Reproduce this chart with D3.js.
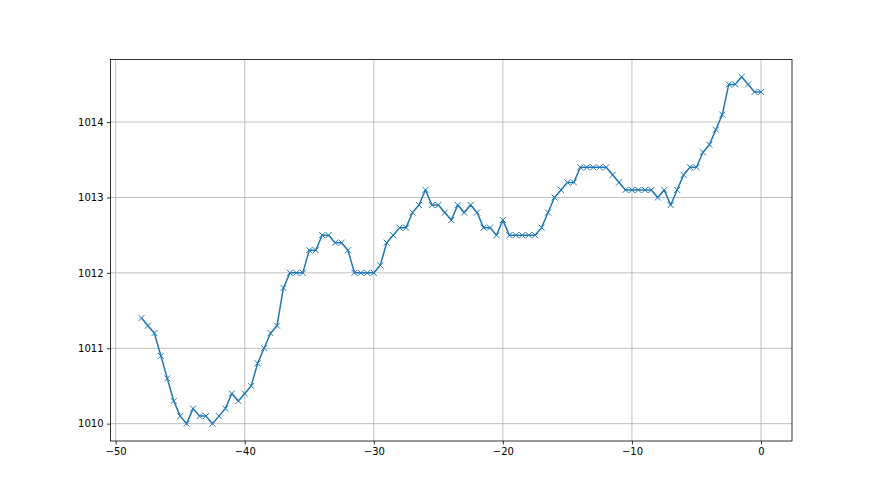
<!DOCTYPE html>
<html>
<head>
<meta charset="utf-8">
<script src="https://cdn.jsdelivr.net/npm/d3@7"></script>
<style>
  body { margin: 0; background: #fff; }
  .tick text { font-family: "DejaVu Sans", sans-serif; font-size: 10px; fill: #000; }
</style>
</head>
<body>
<div class="chart"></div>
<script>
// x positions: every half step from -48 to 0
const xValues = [
  -48, -47.5, -47, -46.5, -46, -45.5, -45, -44.5, -44, -43.5,
  -43, -42.5, -42, -41.5, -41, -40.5, -40, -39.5, -39, -38.5,
  -38, -37.5, -37, -36.5, -36, -35.5, -35, -34.5, -34, -33.5,
  -33, -32.5, -32, -31.5, -31, -30.5, -30, -29.5, -29, -28.5,
  -28, -27.5, -27, -26.5, -26, -25.5, -25, -24.5, -24, -23.5,
  -23, -22.5, -22, -21.5, -21, -20.5, -20, -19.5, -19, -18.5,
  -18, -17.5, -17, -16.5, -16, -15.5, -15, -14.5, -14, -13.5,
  -13, -12.5, -12, -11.5, -11, -10.5, -10, -9.5, -9, -8.5,
  -8, -7.5, -7, -6.5, -6, -5.5, -5, -4.5, -4, -3.5,
  -3, -2.5, -2, -1.5, -1, -0.5, 0
]
const pressure = [
  1011.4, 1011.3, 1011.2, 1010.9, 1010.6, 1010.3, 1010.1, 1010.0, 1010.2, 1010.1,
  1010.1, 1010.0, 1010.1, 1010.2, 1010.4, 1010.3, 1010.4, 1010.5, 1010.8, 1011.0,
  1011.2, 1011.3, 1011.8, 1012.0, 1012.0, 1012.0, 1012.3, 1012.3, 1012.5, 1012.5,
  1012.4, 1012.4, 1012.3, 1012.0, 1012.0, 1012.0, 1012.0, 1012.1, 1012.4, 1012.5,
  1012.6, 1012.6, 1012.8, 1012.9, 1013.1, 1012.9, 1012.9, 1012.8, 1012.7, 1012.9,
  1012.8, 1012.9, 1012.8, 1012.6, 1012.6, 1012.5, 1012.7, 1012.5, 1012.5, 1012.5,
  1012.5, 1012.5, 1012.6, 1012.8, 1013.0, 1013.1, 1013.2, 1013.2, 1013.4, 1013.4,
  1013.4, 1013.4, 1013.4, 1013.3, 1013.2, 1013.1, 1013.1, 1013.1, 1013.1, 1013.1,
  1013.0, 1013.1, 1012.9, 1013.1, 1013.3, 1013.4, 1013.4, 1013.6, 1013.7, 1013.9,
  1014.1, 1014.5, 1014.5, 1014.6, 1014.5, 1014.4, 1014.4
]
const xTicks = [-50, -40, -30, -20, -10, 0]
const yTicks = [1010, 1011, 1012, 1013, 1014]

const data = xValues.map(function(x, i){ return {x: x, y: pressure[i]} })

const margin = {top: 59.5, right: 88, bottom: 54, left: 110.5},
    width = 880 - margin.left - margin.right,
    height = 495 - margin.top - margin.bottom;

const svg = d3.select(".chart")
  .append("svg")
    .attr("width", 880)
    .attr("height", 495)
  .append("g")
    .attr("transform", "translate(" + margin.left + "," + margin.top + ")");

// matplotlib style 5% padding
const xExt = d3.extent(xValues), yExt = d3.extent(pressure)
const xPad = (xExt[1] - xExt[0]) * 0.05, yPad = (yExt[1] - yExt[0]) * 0.05

const xScale = d3.scaleLinear()
    .domain([xExt[0] - xPad, xExt[1] + xPad])
    .range([0, width])
const yScale = d3.scaleLinear()
    .domain([yExt[0] - yPad, yExt[1] + yPad])
    .range([height, 0])

const minus = function(d){ return d < 0 ? "\u2212" + Math.abs(d) : "" + d }

// grid
svg.append('g')
  .selectAll('line')
  .data(xTicks)
  .enter()
  .append('line')
    .attr('x1', function(d){ return xScale(d) })
    .attr('x2', function(d){ return xScale(d) })
    .attr('y1', 0)
    .attr('y2', height)
    .attr('stroke', '#b0b0b0')
    .attr('stroke-width', 0.8)
svg.append('g')
  .selectAll('line')
  .data(yTicks)
  .enter()
  .append('line')
    .attr('x1', 0)
    .attr('x2', width)
    .attr('y1', function(d){ return yScale(d) })
    .attr('y2', function(d){ return yScale(d) })
    .attr('stroke', '#b0b0b0')
    .attr('stroke-width', 0.8)

// axes
const xAxis = svg.append('g')
    .attr('transform', 'translate(0,' + height + ')')
    .call(d3.axisBottom(xScale).tickValues(xTicks).tickFormat(minus).tickSize(3.5).tickPadding(3.5))
const yAxis = svg.append('g')
    .call(d3.axisLeft(yScale).tickValues(yTicks).tickFormat(d3.format("d")).tickSize(3.5).tickPadding(3.5))
svg.selectAll('.domain').remove()
svg.selectAll('.tick line').attr('stroke', '#000').attr('stroke-width', 0.8)

// line
svg.append('path')
    .datum(data)
    .attr('fill', 'none')
    .attr('stroke', '#1f77b4')
    .attr('stroke-width', 1.5)
    .attr('stroke-linejoin', 'round')
    .attr('d', d3.line()
        .x(function(d){ return xScale(d.x) })
        .y(function(d){ return yScale(d.y) }))

// x markers
const m = 3
svg.append('g')
  .selectAll('path')
  .data(data)
  .enter()
  .append('path')
    .attr('d', function(d){
      const cx = xScale(d.x), cy = yScale(d.y)
      return 'M' + (cx - m) + ',' + (cy - m) + 'L' + (cx + m) + ',' + (cy + m) +
             'M' + (cx - m) + ',' + (cy + m) + 'L' + (cx + m) + ',' + (cy - m)
    })
    .attr('stroke', '#1f77b4')
    .attr('stroke-width', 1)
    .attr('fill', 'none')

// frame
svg.append('rect')
    .attr('x', 0)
    .attr('y', 0)
    .attr('width', width)
    .attr('height', height)
    .attr('fill', 'none')
    .attr('stroke', '#000')
    .attr('stroke-width', 0.8)
</script>
</body>
</html>
